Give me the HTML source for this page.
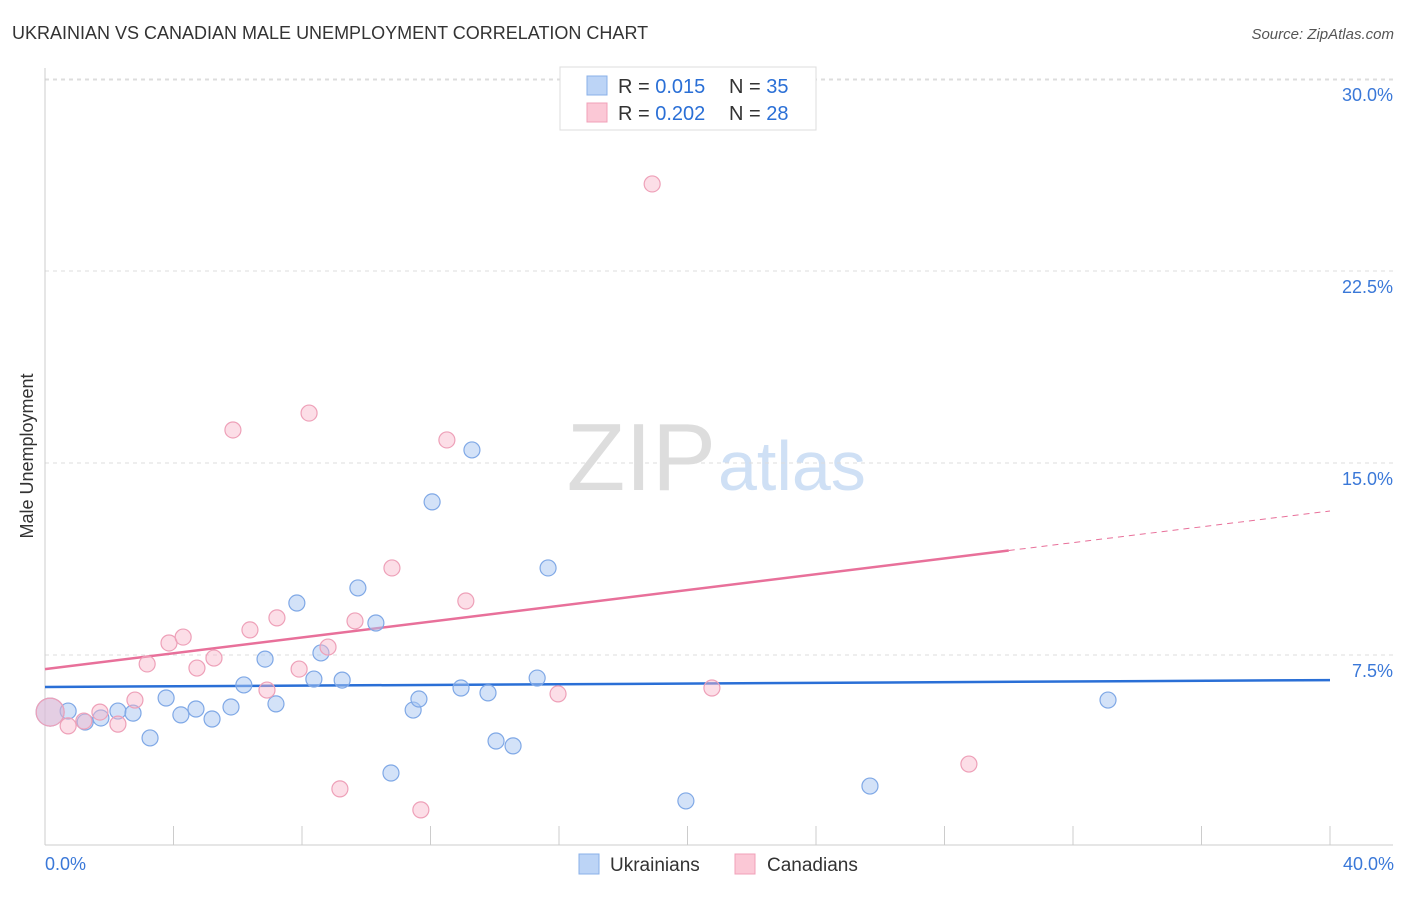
<!DOCTYPE html>
<html><head><meta charset="utf-8"><style>
body{margin:0;background:#fff;font-family:"Liberation Sans",sans-serif;}
svg text{font-family:"Liberation Sans",sans-serif;}
</style></head><body>
<svg id="chart" width="1406" height="892" xmlns="http://www.w3.org/2000/svg">
<text x="12" y="39" font-size="18" fill="#333">UKRAINIAN VS CANADIAN MALE UNEMPLOYMENT CORRELATION CHART</text>
<text x="1394" y="39" font-size="15" fill="#555" text-anchor="end" font-style="italic">Source: ZipAtlas.com</text>
<text x="716" y="490" font-size="96" text-anchor="end" fill="#ddd" font-family="Liberation Serif">ZIP</text>
<text x="718" y="490" font-size="70" fill="#cfe0f5">atlas</text>
<text transform="translate(33,456) rotate(-90)" font-size="18" fill="#333" text-anchor="middle">Male Unemployment</text>
<g id="grid"></g><g id="axes"></g><g id="trends"></g><g id="pts"></g>
<g>
<rect x="560" y="67" width="256" height="63" fill="#fff" stroke="#ddd"/>
<rect x="587" y="76" width="20" height="19" fill="#bcd4f6" stroke="#8ab0e8"/>
<text x="618" y="93" font-size="20" fill="#333">R = <tspan fill="#2a6fd6">0.015</tspan></text>
<text x="729" y="93" font-size="20" fill="#333">N = <tspan fill="#2a6fd6">35</tspan></text>
<rect x="587" y="103" width="20" height="19" fill="#fbc8d6" stroke="#f0a0b8"/>
<text x="618" y="120" font-size="20" fill="#333">R = <tspan fill="#2a6fd6">0.202</tspan></text>
<text x="729" y="120" font-size="20" fill="#333">N = <tspan fill="#2a6fd6">28</tspan></text>
</g>
<g>
<rect x="579" y="854" width="20" height="20" fill="#bcd4f6" stroke="#8ab0e8"/>
<text x="610" y="871" font-size="19" fill="#333">Ukrainians</text>
<rect x="735" y="854" width="20" height="20" fill="#fbc8d6" stroke="#f0a0b8"/>
<text x="767" y="871" font-size="19" fill="#333">Canadians</text>
</g>
</svg>
<script>
const blueX=[0.16,0.72,1.25,1.74,2.27,2.74,3.27,3.77,4.23,4.70,5.20,5.79,6.19,6.85,7.19,7.84,8.37,8.59,9.25,9.74,10.30,10.77,11.46,11.64,12.05,12.95,13.29,13.79,14.04,14.57,15.32,15.66,19.95,25.68,33.09];
const blueY=[5.27,5.31,4.88,5.04,5.31,5.23,4.26,5.82,5.16,5.39,5.0,5.47,6.33,7.34,5.59,9.53,6.56,7.58,6.52,10.12,8.75,2.89,5.35,5.78,13.48,6.21,15.51,6.02,4.14,3.95,6.60,10.90,1.80,2.38,5.74];
const pinkX=[0.16,0.72,1.21,1.71,2.27,2.80,3.18,3.86,4.30,4.73,5.26,5.85,6.38,6.91,7.22,7.91,8.22,8.81,9.18,9.65,10.80,11.70,12.51,13.10,15.97,18.90,20.76,28.76];
const pinkY=[5.27,4.73,4.92,5.27,4.80,5.74,7.15,7.97,8.20,6.99,7.38,16.29,8.48,6.13,8.95,6.95,16.95,7.81,2.27,8.83,10.90,1.45,15.90,9.61,5.98,25.90,6.21,3.24];
const yTicks=[7.5,15,22.5,30];
const yTickLabels=["7.5%","15.0%","22.5%","30.0%"];
const xTicks=[0,4,8,12,16,20,24,28,32,36,40];
const blueTrend=[6.25,6.52];
const pinkTrend=[6.95,13.125];
const pinkSolidEnd=30;
const sx=v=>45+v*32.125, sy=v=>847-v*25.6;
const NS="http://www.w3.org/2000/svg";
function mk(p,t,a){const e=document.createElementNS(NS,t);for(const k in a)e.setAttribute(k,a[k]);document.getElementById(p).appendChild(e);return e;}
yTicks.forEach((v,i)=>{
 const l=mk('grid','line',{x1:45,x2:1393,y1:sy(v),y2:sy(v),stroke:'#ddd','stroke-dasharray':'4,4'});
 
 
 const t=mk('grid','text',{x:1393,y:sy(v)+22,'font-size':18,fill:'#3a78d8','text-anchor':'end'});
 t.textContent=yTickLabels[i];
 
 
});
const topLine=mk('grid','line',{x1:45,x2:1393,y1:80,y2:80,stroke:'#ddd','stroke-dasharray':'4,4'});


const ya=mk('axes','line',{x1:45,x2:45,y1:68,y2:845,stroke:'#ccc'});


const xa=mk('axes','line',{x1:45,x2:1393,y1:845,y2:845,stroke:'#ccc'});


xTicks.forEach(v=>{const l=mk('axes','line',{x1:sx(v),x2:sx(v),y1:826,y2:845,stroke:'#ccc'});
 
 });
[[0,'start','0.0%'],[40,'end','40.0%']].forEach(([v,a,s])=>{const t=mk('axes','text',{x:sx(v)+(a=='end'?64:0),y:870,'font-size':18,fill:'#3a78d8','text-anchor':a});t.textContent=s;
 
 });
const bl=mk('trends','line',{x1:sx(0),x2:sx(40),y1:sy(blueTrend[0]),y2:sy(blueTrend[1]),stroke:'#2a6fd6','stroke-width':2.5});


const pe=pinkTrend[0]+(pinkTrend[1]-pinkTrend[0])*pinkSolidEnd/40;
const pl=mk('trends','line',{x1:sx(0),x2:sx(pinkSolidEnd),y1:sy(pinkTrend[0]),y2:sy(pe),stroke:'#e8709a','stroke-width':2.5});


const pd=mk('trends','line',{x1:sx(pinkSolidEnd),x2:sx(40),y1:sy(pe),y2:sy(pinkTrend[1]),stroke:'#e8709a','stroke-width':1,'stroke-dasharray':'6,5'});


function pts(X,Y,fill,stroke,name){X.forEach((x,i)=>{const c=mk('pts','circle',{cx:sx(x),cy:sy(Y[i]),r:i==0?14:8,fill:fill,stroke:stroke,'stroke-width':1.2});
 
 });}
pts(blueX,blueY,'rgba(168,198,242,0.5)','#7fa8e6','ukrainian-point');
pts(pinkX,pinkY,'rgba(248,182,202,0.45)','#eea0b8','canadian-point');
</script>
</body></html>
